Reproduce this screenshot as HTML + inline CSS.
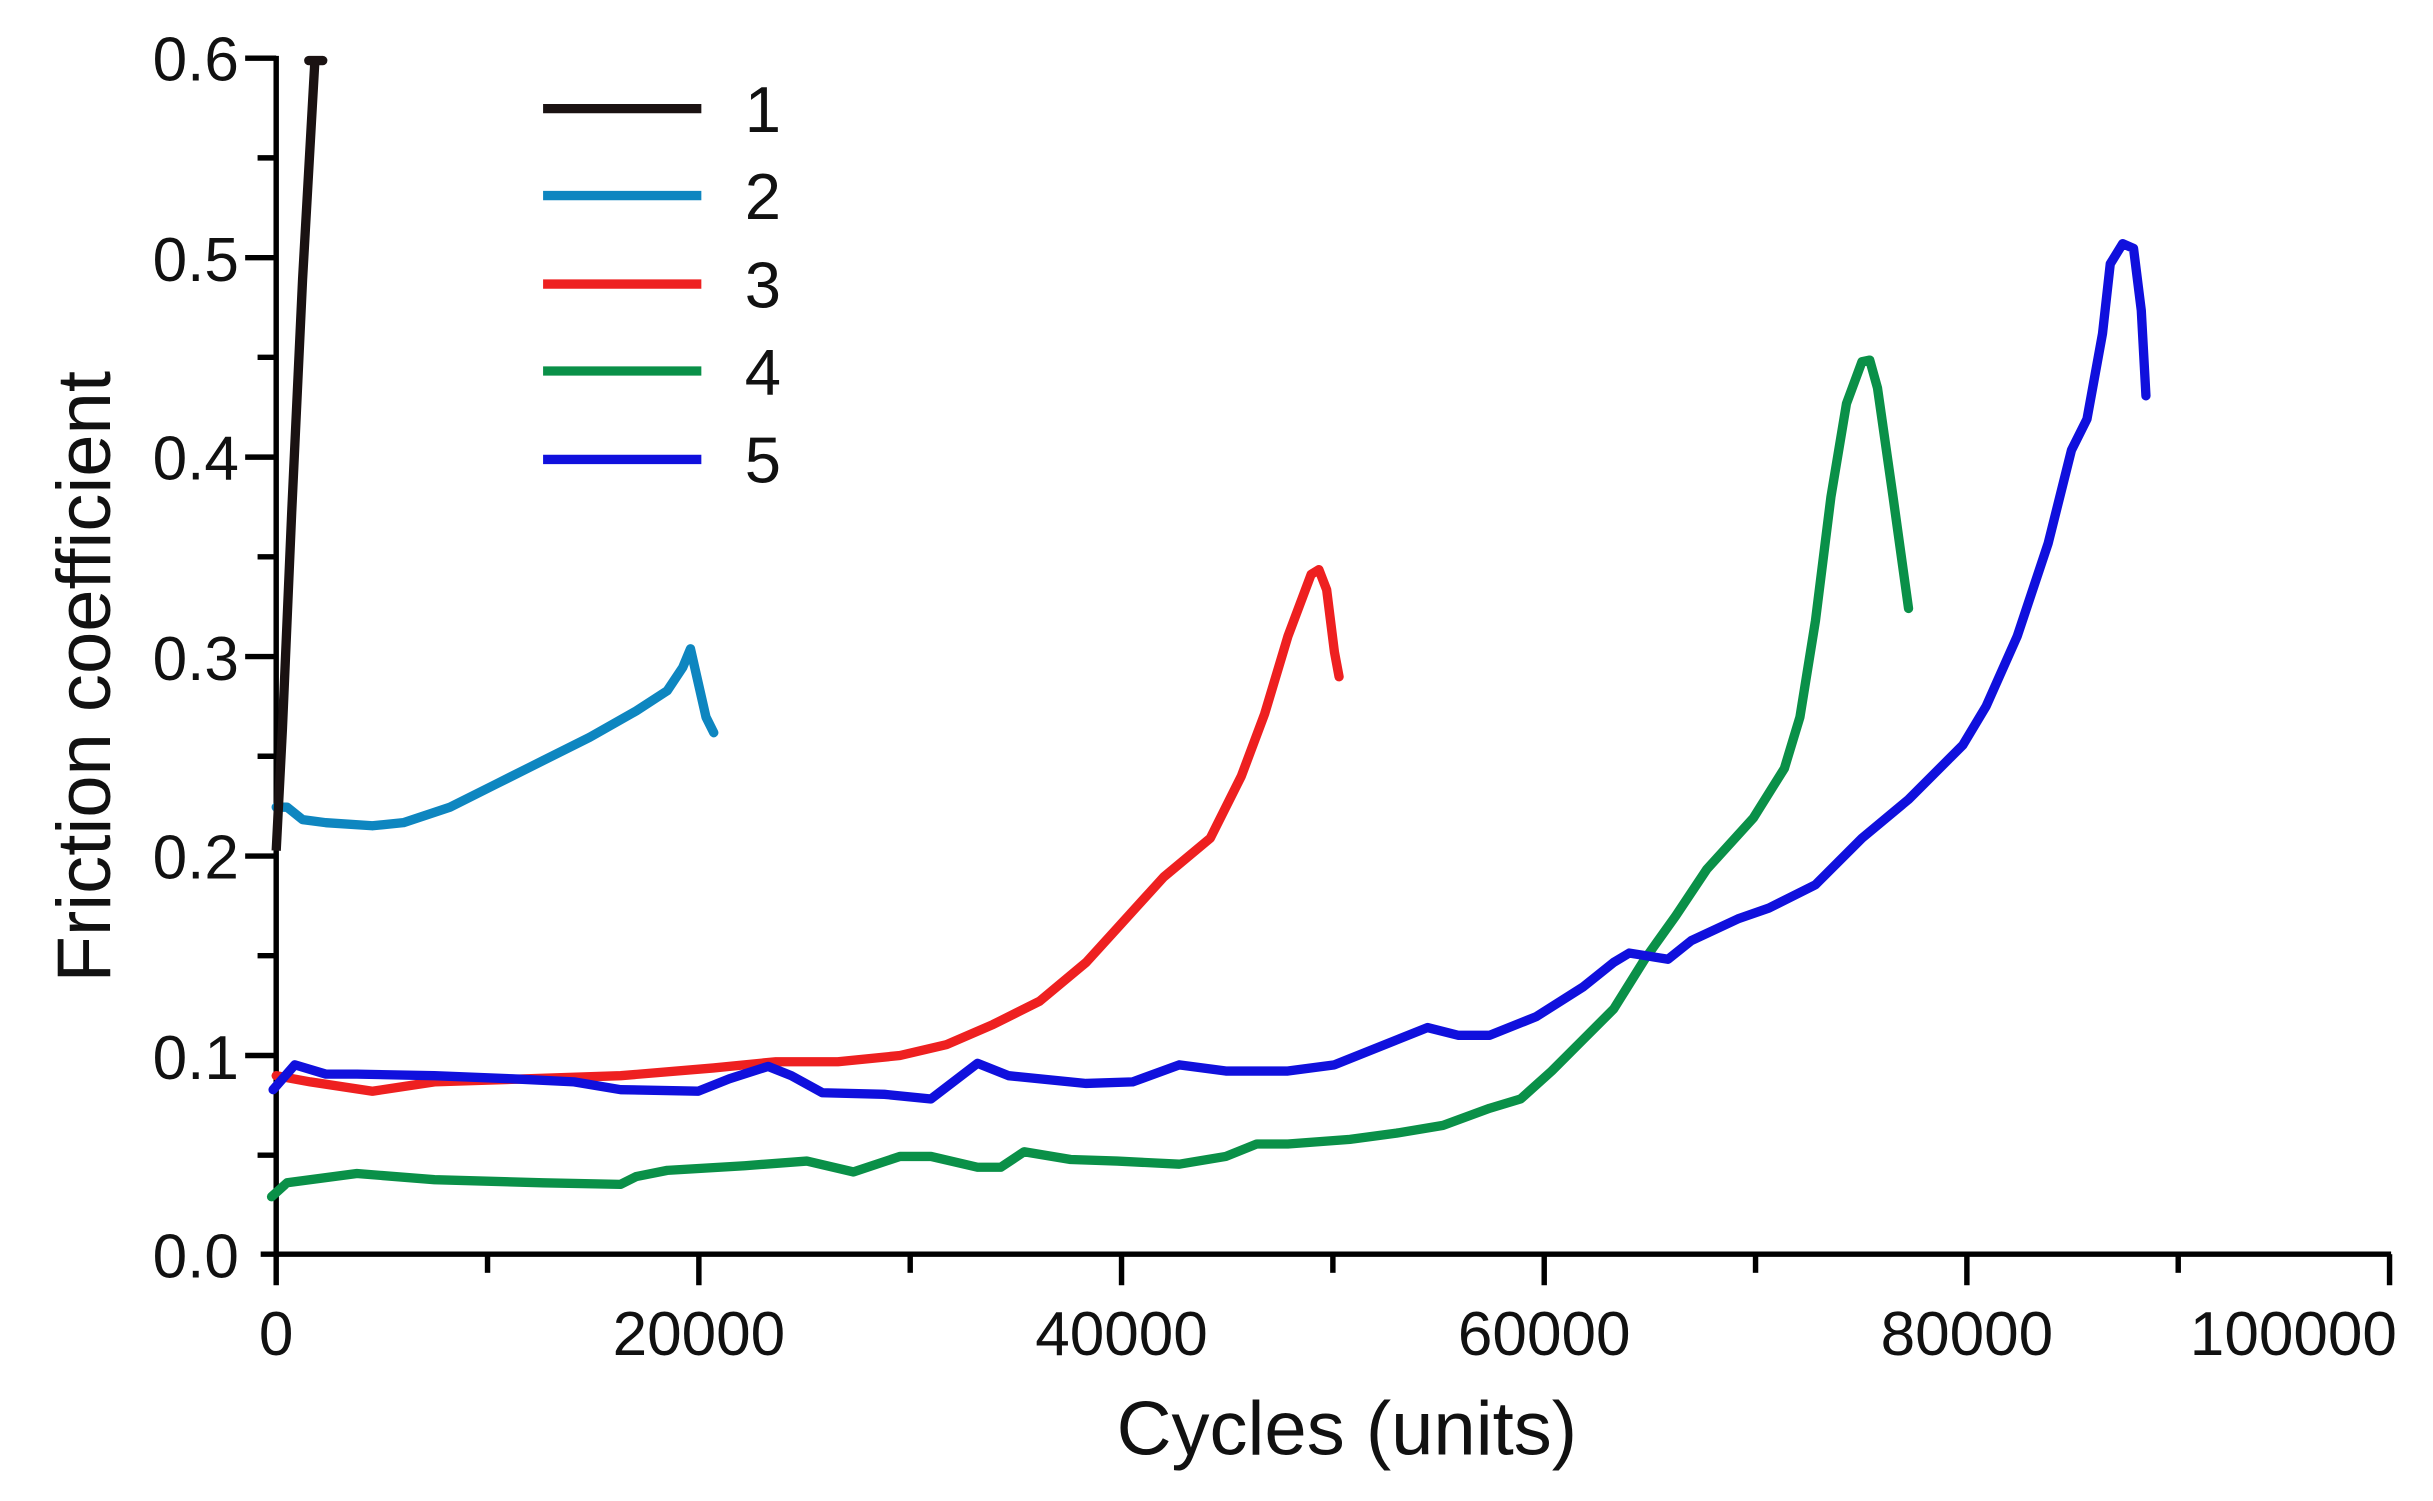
<!DOCTYPE html>
<html><head><meta charset="utf-8"><style>
html,body{margin:0;padding:0;background:#fff;width:2433px;height:1501px;overflow:hidden}
svg{display:block}
text{font-family:"Liberation Sans",Arial,sans-serif;fill:#111}
</style></head><body>
<svg width="2433" height="1501" viewBox="0 0 1568 967" preserveAspectRatio="none" xmlns="http://www.w3.org/2000/svg">
<rect width="1568" height="967" fill="#fff"/>
<g stroke="#000" stroke-width="3.5" fill="none">
<line x1="178" y1="36" x2="178" y2="810"/>
<line x1="168" y1="808" x2="1541" y2="808"/>
<line x1="158" y1="37.5" x2="178" y2="37.5"/>
<line x1="158" y1="166" x2="178" y2="166"/>
<line x1="158" y1="294.5" x2="178" y2="294.5"/>
<line x1="158" y1="423" x2="178" y2="423"/>
<line x1="158" y1="551.5" x2="178" y2="551.5"/>
<line x1="158" y1="680" x2="178" y2="680"/>
<line x1="166" y1="101.7" x2="178" y2="101.7"/>
<line x1="166" y1="230.2" x2="178" y2="230.2"/>
<line x1="166" y1="358.7" x2="178" y2="358.7"/>
<line x1="166" y1="487.2" x2="178" y2="487.2"/>
<line x1="166" y1="615.7" x2="178" y2="615.7"/>
<line x1="166" y1="744.2" x2="178" y2="744.2"/>
<line x1="178" y1="808" x2="178" y2="828"/>
<line x1="450.4" y1="808" x2="450.4" y2="828"/>
<line x1="722.8" y1="808" x2="722.8" y2="828"/>
<line x1="995.2" y1="808" x2="995.2" y2="828"/>
<line x1="1267.6" y1="808" x2="1267.6" y2="828"/>
<line x1="1540" y1="808" x2="1540" y2="828"/>
<line x1="314.2" y1="808" x2="314.2" y2="820"/>
<line x1="586.6" y1="808" x2="586.6" y2="820"/>
<line x1="859" y1="808" x2="859" y2="820"/>
<line x1="1131.4" y1="808" x2="1131.4" y2="820"/>
<line x1="1403.8" y1="808" x2="1403.8" y2="820"/>
</g>
<g font-size="40" text-anchor="end">
<text x="154" y="52">0.6</text>
<text x="154" y="181">0.5</text>
<text x="154" y="309">0.4</text>
<text x="154" y="438">0.3</text>
<text x="154" y="566">0.2</text>
<text x="154" y="695">0.1</text>
<text x="154" y="823">0.0</text>
</g>
<g font-size="40" text-anchor="middle">
<text x="178" y="873">0</text>
<text x="450.4" y="873">20000</text>
<text x="722.8" y="873">40000</text>
<text x="995.2" y="873">60000</text>
<text x="1267.6" y="873">80000</text>
<text x="1478" y="873">100000</text>
</g>
<text x="868" y="937" font-size="49" text-anchor="middle">Cycles (units)</text>
<text transform="translate(71,436) rotate(-90)" font-size="49" text-anchor="middle">Friction coefficient</text>
<g stroke-width="6">
<line x1="350" y1="70" x2="452" y2="70" stroke="#1a1212"/>
<line x1="350" y1="126" x2="452" y2="126" stroke="#0e86c0"/>
<line x1="350" y1="183" x2="452" y2="183" stroke="#ee2020"/>
<line x1="350" y1="239" x2="452" y2="239" stroke="#0a9048"/>
<line x1="350" y1="296" x2="452" y2="296" stroke="#1010dd"/>
</g>
<g font-size="42">
<text x="480" y="85">1</text>
<text x="480" y="141">2</text>
<text x="480" y="198">3</text>
<text x="480" y="254">4</text>
<text x="480" y="311">5</text>
</g>
<g fill="none" stroke-width="6" stroke-linejoin="round" stroke-linecap="round">
<polyline stroke="#0a9048" points="175,771 185,762 230,756 280,760 350,762 400,763 410,758 430,754 480,751 520,748 550,755 580,745 600,745 630,752 645,752 660,742 690,747 720,748 760,750 790,745 810,737 830,737 870,734 900,730 930,725 960,714 980,708 1000,690 1020,670 1040,650 1060,618 1080,590 1100,560 1130,527 1150,495 1160,462 1170,400 1180,320 1190,260 1200,233 1205,232 1210,250 1220,320 1230,392"/>
<polyline stroke="#ee2020" points="178,693 200,697 240,703 280,697 340,695 400,693 460,688 500,684 540,684 580,680 610,673 640,660 670,645 700,620 720,598 750,565 780,540 800,500 815,460 830,410 845,370 850,367 855,380 860,420 863,436"/>
<polyline stroke="#1010dd" points="176,702 190,686 210,692 230,692 280,693 330,695 370,697 400,702 450,703 470,695 495,687 510,693 530,704 570,705 600,708 630,685 650,693 700,698 730,697 760,686 790,690 830,690 860,686 890,674 920,662 940,667 960,667 990,655 1020,636 1040,620 1050,614 1075,618 1090,606 1120,592 1140,585 1170,570 1200,540 1230,515 1265,480 1280,455 1300,410 1320,350 1335,290 1345,270 1355,215 1360,170 1368,157 1375,160 1380,200 1383,255"/>
<polyline stroke="#0e86c0" points="178,520 185,520 195,528 210,530 240,532 260,530 290,520 320,505 350,490 380,475 410,458 430,445 440,430 445,418 450,440 455,462 460,472"/>
<polyline stroke="#1a1212" stroke-linecap="butt" points="178,548 182,470 188,330 195,180 203,38"/>
<line x1="199" y1="39" x2="208" y2="39" stroke="#1a1212"/>
</g>
</svg>
</body></html>
